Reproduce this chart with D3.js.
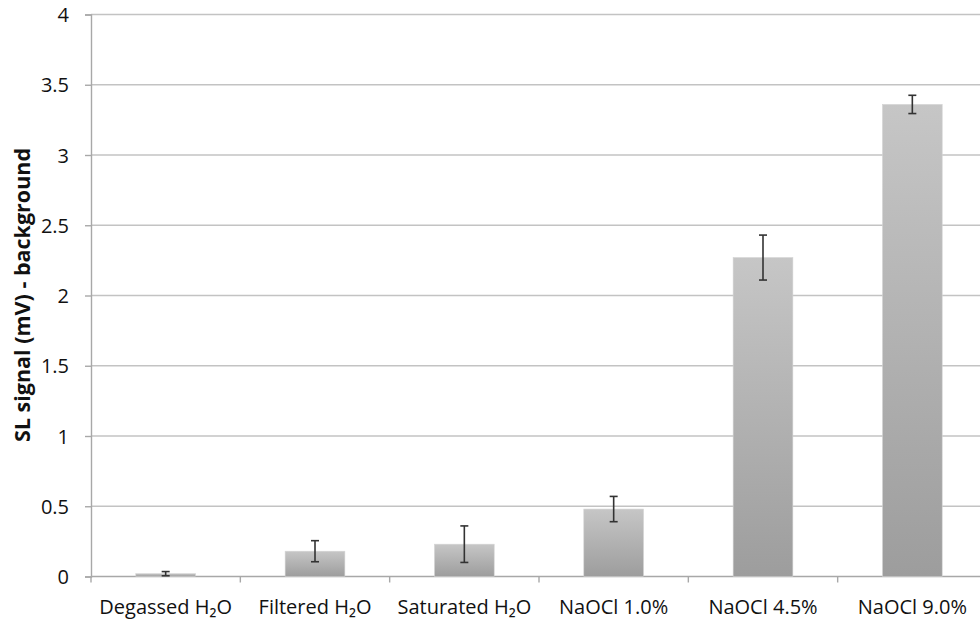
<!DOCTYPE html>
<html>
<head>
<meta charset="utf-8">
<script src="https://cdn.jsdelivr.net/npm/d3@7"></script>
<style>
  html, body { margin: 0; padding: 0; background: #fff; }
  svg { display: block; }
  text { font-family: "Open Sans", "Noto Sans", sans-serif; fill: #111; }
</style>
</head>
<body>
<svg id="chart" width="980" height="626"></svg>
<script>
// Sample conditions and their mean SL signal with standard deviation
const categories = ["Degassed H₂O", "Filtered H₂O", "Saturated H₂O", "NaOCl 1.0%", "NaOCl 4.5%", "NaOCl 9.0%"];
const means = [0.02, 0.18, 0.23, 0.48, 2.27, 3.36];
const errors = [0.015, 0.075, 0.13, 0.09, 0.16, 0.065];
const yTicks = [0, 0.5, 1, 1.5, 2, 2.5, 3, 3.5, 4];
const yTitle = "SL signal (mV) - background";

const svg = d3.select("#chart");
const margin = { left: 91, top: 14.5, right: -7, bottom: 49.5 };
const W = 980, H = 626;
const x0 = margin.left, x1 = W - margin.right;
const yTop = margin.top, yBot = H - margin.bottom;

const x = d3.scaleBand().domain(categories).range([x0, x1]).paddingInner(0.6).paddingOuter(0.3);
const xb = d3.scaleBand().domain(categories).range([x0, x1]);
const y = d3.scaleLinear().domain([0, 4]).range([yBot, yTop]);

// bar fill: light at the top, darker toward the base
const defs = svg.append("defs");
const grad = defs.append("linearGradient").attr("id", "barFill")
  .attr("x1", 0).attr("y1", 0).attr("x2", 0).attr("y2", 1);
grad.append("stop").attr("offset", "0%").attr("stop-color", "#c6c6c6");
grad.append("stop").attr("offset", "100%").attr("stop-color", "#9d9d9d");

// horizontal gridlines
svg.append("g").selectAll("line").data(yTicks.filter(d => d > 0)).join("line")
  .attr("x1", x0).attr("x2", W)
  .attr("y1", d => y(d)).attr("y2", d => y(d))
  .attr("stroke", "#c3c3c3").attr("stroke-width", 1.6);

// y axis
const yAxis = d3.axisLeft(y).tickValues(yTicks).tickFormat(d => d3.format("")(d)).tickSize(6).tickPadding(16);
const gy = svg.append("g").attr("transform", `translate(${x0},0)`).call(yAxis);
gy.select(".domain").attr("stroke", "#a8a8a8").attr("stroke-width", 1.4);
gy.selectAll(".tick line").attr("stroke", "#a8a8a8").attr("stroke-width", 1.4);
gy.selectAll(".tick text").attr("font-size", 20).attr("font-family", "Open Sans").attr("fill", "#111").attr("dy", "0.35em");

// x axis with ticks at the category boundaries
const gx = svg.append("g").attr("transform", `translate(0,${yBot})`);
gx.append("line").attr("x1", x0).attr("x2", W).attr("y1", 0).attr("y2", 0)
  .attr("stroke", "#a8a8a8").attr("stroke-width", 1.4);
gx.selectAll("line.sep").data(categories).join("line").attr("class", "sep")
  .attr("x1", d => xb(d)).attr("x2", d => xb(d)).attr("y1", 0).attr("y2", 6)
  .attr("stroke", "#a8a8a8").attr("stroke-width", 1.4);
gx.selectAll("text").data(categories).join("text")
  .attr("x", d => xb(d) + xb.bandwidth() / 2).attr("y", 37)
  .attr("text-anchor", "middle").attr("font-size", 20).text(d => d);

// bars
svg.append("g").selectAll("rect").data(categories).join("rect")
  .attr("x", d => x(d)).attr("width", x.bandwidth())
  .attr("y", (d, i) => y(means[i])).attr("height", (d, i) => yBot - y(means[i]))
  .attr("fill", "url(#barFill)")
  .attr("stroke", "#d4d4d4").attr("stroke-width", 0.6);

// error bars
const eg = svg.append("g").attr("stroke", "#333").attr("stroke-width", 1.6);
categories.forEach((c, i) => {
  const cx = x(c) + x.bandwidth() / 2;
  const hi = y(means[i] + errors[i]), lo = y(means[i] - errors[i]);
  eg.append("line").attr("x1", cx).attr("x2", cx).attr("y1", hi).attr("y2", lo);
  eg.append("line").attr("x1", cx - 4).attr("x2", cx + 4).attr("y1", hi).attr("y2", hi);
  eg.append("line").attr("x1", cx - 4).attr("x2", cx + 4).attr("y1", lo).attr("y2", lo);
});

// y axis title
svg.append("text")
  .attr("transform", `translate(30,295) rotate(-90)`)
  .attr("text-anchor", "middle").attr("font-size", 21.5).attr("font-weight", "bold")
  .text(yTitle);
</script>
</body>
</html>
